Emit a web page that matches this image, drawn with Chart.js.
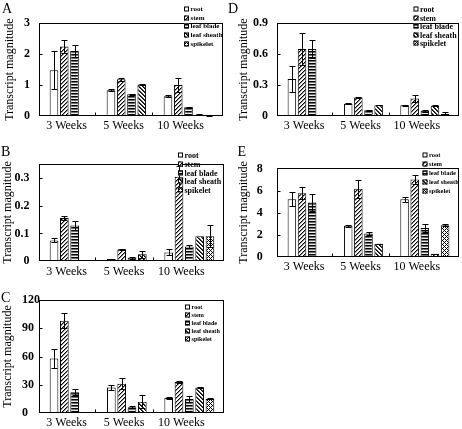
<!DOCTYPE html>
<html>
<head>
<meta charset="utf-8">
<script src="https://cdn.jsdelivr.net/npm/chart.js@4.4.0/dist/chart.umd.min.js"></script>
<style>
  html, body { margin: 0; padding: 0; background: #fff; width: 462px; height: 429px; overflow: hidden; }
  canvas { position: absolute; }
</style>
</head>
<body>
<canvas id="chartA" width="231" height="140" style="left:0;top:0"></canvas>
<canvas id="chartD" width="236" height="140" style="left:226px;top:0"></canvas>
<canvas id="chartB" width="231" height="145" style="left:0;top:140px"></canvas>
<canvas id="chartE" width="236" height="145" style="left:226px;top:140px"></canvas>
<canvas id="chartC" width="231" height="144" style="left:0;top:285px"></canvas>
<script>
'use strict'

// shared categories and series
const categories = ['3 Weeks', '5 Weeks', '10 Weeks'];
const seriesNames = ['root', 'stem', 'leaf blade', 'leaf sheath', 'spikelet'];

// panel A  (rows follow seriesNames)
const valuesA = [[1.48, 0.83, 0.64], [2.25, 1.19, 1.0], [2.1, 0.7, 0.28], [0, 1.02, 0.04], [0, 0, 0.02]];
const errorsA = [[0.62, 0.03, 0.03], [0.2, 0.05, 0.23], [0.2, 0.02, 0.02], [0, 0.01, 0.01], [0, 0, 0.01]];
const yTicksA = [0, 1, 2, 3];
const yMaxA = 3;

// panel B
const valuesB = [[0.075, 0.008, 0.032], [0.155, 0.043, 0.303], [0.128, 0.013, 0.053], [0, 0.025, 0.09], [0, 0, 0.09]];
const errorsB = [[0.007, 0.001, 0.011], [0.007, 0.001, 0.037], [0.015, 0.003, 0.007], [0, 0.013, 0], [0, 0, 0.04]];
const yTicksB = [0, 0.1, 0.2, 0.3];
const yMaxB = 0.35;

// panel C
const valuesC = [[58, 27, 16], [98, 31, 33], [22, 6, 15], [0, 12, 27], [0, 0, 15]];
const errorsC = [[10, 3, 1], [8, 6, 1], [3, 1, 3], [0, 7, 0.5], [0, 0, 0.5]];
const yTicksC = [0, 30, 60, 90, 120];
const yMaxC = 120;

// panel D
const valuesD = [[0.36, 0.12, 0.105], [0.65, 0.18, 0.17], [0.65, 0.055, 0.05], [0, 0.105, 0.1], [0, 0, 0.02]];
const errorsD = [[0.125, 0.004, 0.006], [0.155, 0.004, 0.03], [0.09, 0.003, 0.01], [0, 0.003, 0.002], [0, 0, 0.015]];
const yTicksD = [0, 0.3, 0.6, 0.9];
const yMaxD = 0.9;

// panel E
const valuesE = [[5.2, 2.8, 5.2], [5.75, 6.15, 7.0], [4.9, 2.1, 2.6], [0, 1.15, 0.25], [0, 0, 2.85]];
const errorsE = [[0.65, 0.1, 0.2], [0.55, 0.85, 0.4], [0.75, 0.15, 0.4], [0, 0.03, 0.02], [0, 0, 0.08]];
const yTicksE = [0, 2, 4, 6, 8];
const yMaxE = 8;

const SERIF = '"Liberation Serif", "Times New Roman", serif';
const INSET_L = 7, INSET_R = 6, LABEL_SHIFT = -8;

// fill patterns for the bars
function makePattern(kind) {
  const n = kind === 'blade' ? 3 : 4;
  const c = document.createElement('canvas');
  c.width = n; c.height = n;
  const g = c.getContext('2d');
  const img = g.createImageData(n, n);
  for (let y = 0; y < n; y++) {
    for (let x = 0; x < n; x++) {
      let v = 255;
      if (kind === 'stem') {
        const d = (x + y) % n;
        v = d === 0 ? 0 : (d === 1 ? 140 : 255);
      } else if (kind === 'sheath') {
        const d = (x - y + n) % n;
        v = d === 0 ? 0 : (d === 1 ? 70 : 255);
      } else if (kind === 'blade') {
        v = [0, 110, 235][y];
      } else if (kind === 'spike') {
        v = ((x + y) % n === 0 || (x - y + n) % n === 0) ? 0 : 255;
      }
      const k = (y * n + x) * 4;
      img.data[k] = img.data[k + 1] = img.data[k + 2] = v;
      img.data[k + 3] = 255;
    }
  }
  g.putImageData(img, 0, 0);
  return g.createPattern(c, 'repeat');
}

const fills = ['#ffffff', makePattern('stem'), makePattern('blade'), makePattern('sheath'), makePattern('spike')];

// frame, error bars, inward ticks, legend and panel letter
const panelDecor = {
  id: 'panelDecor',
  afterDatasetsDraw(chart, args, o) {
    const { ctx, chartArea: a, scales: { x, y } } = chart;
    const fl = Math.round(a.left - INSET_L) + 0.5, fr = Math.round(a.right + INSET_R) - 0.5;
    const ft = Math.round(a.top) + 0.5, fb = Math.round(a.bottom) - 0.5;
    ctx.save();
    ctx.strokeStyle = '#000';
    ctx.fillStyle = '#000';
    ctx.lineWidth = 1;

    // error bars
    chart.data.datasets.forEach((ds, i) => {
      chart.getDatasetMeta(i).data.forEach((bar, j) => {
        const e = ds.errors[j];
        if (!e) return;
        const v = ds.data[j];
        const yt = Math.round(y.getPixelForValue(v + e)) + 0.5;
        const yb = Math.round(y.getPixelForValue(Math.max(0, v - e))) + 0.5;
        const cx = Math.round(bar.x) + 0.5;
        ctx.beginPath();
        ctx.moveTo(cx, yt); ctx.lineTo(cx, yb);
        ctx.moveTo(cx - 3, yt); ctx.lineTo(cx + 3, yt);
        ctx.moveTo(cx - 3, yb); ctx.lineTo(cx + 3, yb);
        ctx.stroke();
      });
    });

    // frame
    ctx.strokeRect(fl, ft, fr - fl, fb - ft);

    // inward ticks
    ctx.beginPath();
    y.ticks.forEach(t => {
      if (t.value <= y.min || t.value >= y.max) return;
      const py = Math.round(y.getPixelForValue(t.value)) + 0.5;
      ctx.moveTo(fl, py); ctx.lineTo(fl + 3, py);
    });
    for (let i = 1; i < x.ticks.length; i++) {
      const px = Math.round((x.getPixelForTick(i - 1) + x.getPixelForTick(i)) / 2 + LABEL_SHIFT) + 0.5;
      ctx.moveTo(px, fb); ctx.lineTo(px, fb - 3);
    }
    ctx.stroke();

    // legend inside the frame
    const lg = o.legend;
    ctx.font = 'bold ' + lg.size + 'px ' + SERIF;
    ctx.textBaseline = 'middle';
    ctx.textAlign = 'left';
    chart.data.datasets.forEach((ds, i) => {
      const cy = Math.round(lg.y + i * lg.dy);
      ctx.fillStyle = ds.backgroundColor;
      ctx.fillRect(lg.x, cy - 2.5, 5, 5);
      ctx.strokeRect(lg.x + 0.5, cy - 2, 4, 4);
      ctx.fillStyle = '#000';
      ctx.fillText(ds.label, lg.x + 6.5, cy + 0.5);
    });

    // panel letter
    ctx.font = '14px ' + SERIF;
    ctx.fillText(o.letter, o.letterX, o.letterY);
    ctx.restore();
  }
};

function makeChart(p) {
  const canvas = document.getElementById(p.id);
  const W = canvas.width, H = canvas.height;
  const chartLeft = p.frame.l + INSET_L, chartRight = p.frame.r - INSET_R;
  const padL = p.farAlign ? p.tickLeft : 0;
  const titleFont = { family: SERIF, size: 12 };
  const titlePad = p.titleX - 12 * 1.2 / 2 - padL;

  const datasets = seriesNames.map((name, i) => ({
    label: name,
    data: p.values[i],
    errors: p.errors[i],
    backgroundColor: fills[i],
    borderColor: '#000',
    borderWidth: 1,
    categoryPercentage: 0.9,
    barPercentage: 0.84
  }));

  return new Chart(canvas, {
    type: 'bar',
    data: { labels: categories, datasets: datasets },
    options: {
      responsive: false,
      animation: false,
      events: [],
      layout: { padding: { left: padL, top: p.frame.t, right: W - chartRight, bottom: 0 } },
      plugins: {
        legend: { display: false },
        tooltip: { enabled: false },
        panelDecor: { legend: p.legend, letter: p.letter, letterX: p.letterX, letterY: p.letterY }
      },
      scales: {
        x: {
          offset: true,
          grid: { display: false, drawTicks: false },
          border: { display: false },
          ticks: {
            color: '#000', font: { family: SERIF, size: 12 },
            padding: 3, labelOffset: LABEL_SHIFT, maxRotation: 0, autoSkip: false
          },
          afterFit: s => { s.height = H - p.frame.b; }
        },
        y: {
          min: 0,
          max: p.yMax,
          grid: { display: false, drawTicks: false },
          border: { display: false },
          afterBuildTicks: s => { s.ticks = p.yTicks.map(v => ({ value: v })); },
          ticks: {
            color: '#000', font: { family: SERIF, size: 12, weight: 'bold' },
            padding: p.farAlign ? 0 : chartLeft - p.tickRight,
            crossAlign: p.farAlign ? 'far' : 'near',
            callback: v => String(v)
          },
          title: {
            display: true, text: 'Transcript magnitude', color: '#000',
            font: titleFont, padding: { top: titlePad, bottom: 0 }
          },
          afterFit: s => { s.width = chartLeft - padL; }
        }
      }
    },
    plugins: [panelDecor]
  });
}

makeChart({ id: 'chartA', letter: 'A', letterX: 2, letterY: 9.5,
  values: valuesA, errors: errorsA, yTicks: yTicksA, yMax: yMaxA,
  frame: { l: 39, t: 5, r: 223, b: 116 }, tickRight: 30, titleX: 10,
  legend: { x: 184, y: 9, dy: 8.7, size: 7 } });

makeChart({ id: 'chartD', letter: 'D', letterX: 2, letterY: 9.5,
  values: valuesD, errors: errorsD, yTicks: yTicksD, yMax: yMaxD,
  frame: { l: 51, t: 5, r: 233, b: 116 }, tickRight: 42, titleX: 18,
  legend: { x: 187.5, y: 9, dy: 8.6, size: 8 } });

makeChart({ id: 'chartB', letter: 'B', letterX: 1, letterY: 12.5,
  values: valuesB, errors: errorsB, yTicks: yTicksB, yMax: yMaxB,
  frame: { l: 39, t: 11, r: 224, b: 125 }, tickRight: 29.5, titleX: 8,
  legend: { x: 178, y: 15, dy: 8.75, size: 8 } });

makeChart({ id: 'chartE', letter: 'E', letterX: 11.5, letterY: 12,
  values: valuesE, errors: errorsE, yTicks: yTicksE, yMax: yMaxE,
  frame: { l: 51, t: 10, r: 233, b: 125 }, tickRight: 36.7, titleX: 17.7,
  legend: { x: 196.5, y: 15, dy: 9, size: 6.5 } });

makeChart({ id: 'chartC', letter: 'C', letterX: 1, letterY: 13,
  values: valuesC, errors: errorsC, yTicks: yTicksC, yMax: yMaxC,
  frame: { l: 39, t: 15, r: 224, b: 128 }, farAlign: true, tickLeft: 22, titleX: 8,
  legend: { x: 185, y: 22.3, dy: 8, size: 6.2 } });
</script>
</body>
</html>
